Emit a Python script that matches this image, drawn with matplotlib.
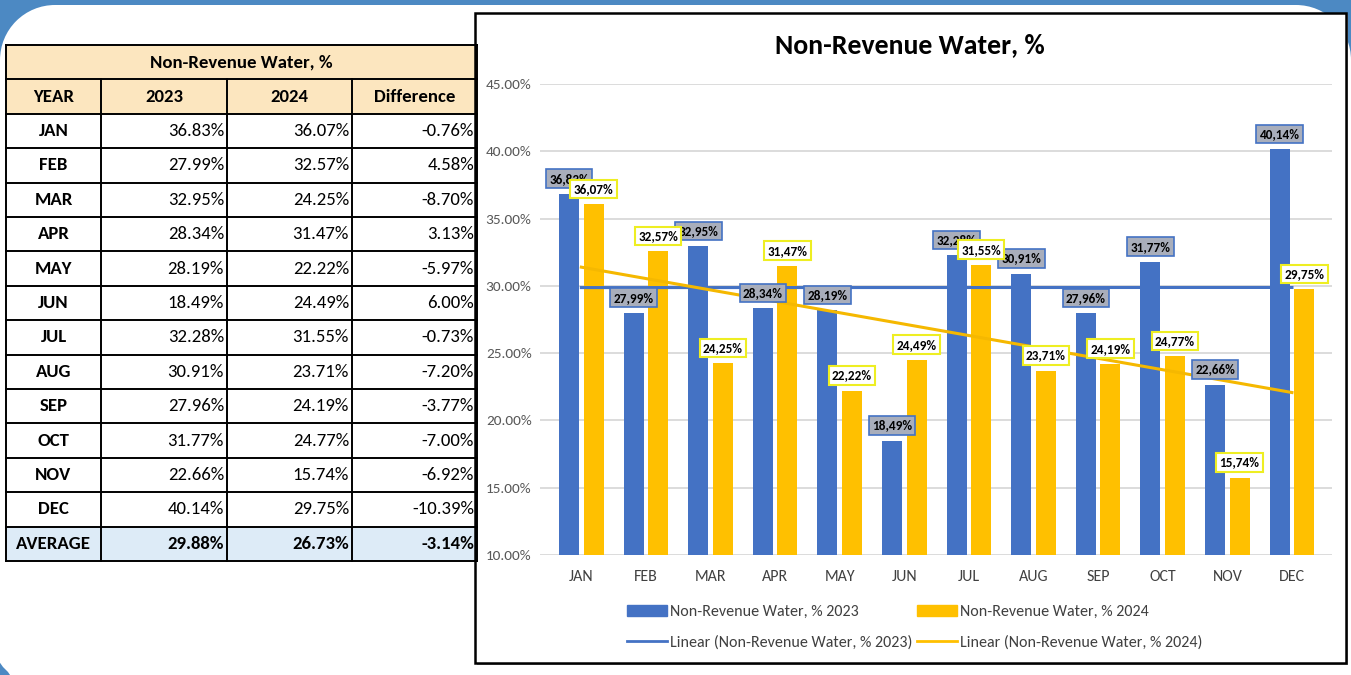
import matplotlib
matplotlib.use("Agg")
import matplotlib.pyplot as plt
import numpy as np
from matplotlib.patches import Rectangle, Circle, Patch, Polygon
from matplotlib.lines import Line2D

# data
months = ["JAN", "FEB", "MAR", "APR", "MAY", "JUN",
          "JUL", "AUG", "SEP", "OCT", "NOV", "DEC"]
nrw_2023 = [36.83, 27.99, 32.95, 28.34, 28.19, 18.49,
            32.28, 30.91, 27.96, 31.77, 22.66, 40.14]
nrw_2024 = [36.07, 32.57, 24.25, 31.47, 22.22, 24.49,
            31.55, 23.71, 24.19, 24.77, 15.74, 29.75]
difference = [-0.76, 4.58, -8.70, 3.13, -5.97, 6.00,
              -0.73, -7.20, -3.77, -7.00, -6.92, -10.39]
average = [29.88, 26.73, -3.14]
header = ["YEAR", "2023", "2024", "Difference"]
y_ticks = [10, 15, 20, 25, 30, 35, 40, 45]

TXT = ["Carlito", "Lato", "DejaVu Sans"]
BLUE = "#4472C4"
YELLOW = "#FFC000"
BG_BLUE = "#4C89C3"

W, H = 1351, 675
fig = plt.figure(figsize=(W / 100, H / 100), dpi=100)
fig.patch.set_facecolor("white")

# background layer in pixel coordinates
bg = fig.add_axes([0, 0, 1, 1])
bg.set_xlim(0, W)
bg.set_ylim(H, 0)
bg.axis("off")
# blue frame showing at the top strip and rounded corners
r = 55
bg.add_patch(Rectangle((-5, -5), W + 10, 10, fc=BG_BLUE, ec="none"))
bg.add_patch(Rectangle((-5, -5), r + 5, r + 10, fc=BG_BLUE, ec="none"))
bg.add_patch(Rectangle((W - r, -5), r + 5, r + 10, fc=BG_BLUE, ec="none"))
bg.add_patch(Circle((r, 5 + r), r, fc="white", ec="none"))
bg.add_patch(Circle((W - r, 5 + r), r, fc="white", ec="none"))
bg.add_patch(Rectangle((r, 5), W - 2 * r, r, fc="white", ec="none"))
bg.add_patch(Rectangle((-5, 5 + r), W + 10, H, fc="white", ec="none"))
bg.add_patch(Polygon([(-2, 660), (3, 667), (8, 672), (12, 678), (-2, 678)],
                     fc=BG_BLUE, ec="none"))

# ---- table ----
cx = [6, 101, 227, 352, 477]
top = 45
row_h = 34.4
rows_y = [top + i * row_h for i in range(16)]  # title, header, 12 months, average
bg.add_patch(Rectangle((cx[0], rows_y[0]), cx[-1] - cx[0], 2 * row_h,
                       fc="#FCE6BF", ec="none"))
bg.add_patch(Rectangle((cx[0], rows_y[14]), cx[-1] - cx[0], row_h,
                       fc="#DDEBF7", ec="none"))
for yy in rows_y[:16]:
    bg.plot([cx[0], cx[-1]], [yy, yy], color="black", lw=1.4)
for xx in cx:
    y0 = rows_y[0] if xx in (cx[0], cx[-1]) else rows_y[1]
    bg.plot([xx, xx], [y0, rows_y[15]], color="black", lw=1.4)

FS = 13.5
bg.text((cx[0] + cx[-1]) / 2, rows_y[0] + row_h / 2, "Non-Revenue Water, %",
        ha="center", va="center", fontsize=FS, fontweight="bold", family=TXT)
for j, h in enumerate(header):
    bg.text((cx[j] + cx[j + 1]) / 2, rows_y[1] + row_h / 2, h,
            ha="center", va="center", fontsize=FS, fontweight="bold", family=TXT)
for i, m in enumerate(months):
    yc = rows_y[2 + i] + row_h / 2
    bg.text((cx[0] + cx[1]) / 2, yc, m, ha="center", va="center",
            fontsize=FS, fontweight="bold", family=TXT)
    for j, v in enumerate([nrw_2023[i], nrw_2024[i], difference[i]]):
        bg.text(cx[j + 2] - 3, yc, f"{v:.2f}%", ha="right", va="center",
                fontsize=FS, family=TXT)
yc = rows_y[14] + row_h / 2
bg.text((cx[0] + cx[1]) / 2, yc, "AVERAGE", ha="center", va="center",
        fontsize=FS, fontweight="bold", family=TXT)
for j, v in enumerate(average):
    bg.text(cx[j + 2] - 3, yc, f"{v:.2f}%", ha="right", va="center",
            fontsize=FS, fontweight="bold", family=TXT)

# ---- chart frame ----
bg.add_patch(Rectangle((477, 15), 871, 650, fc="#9a9a9a", ec="none"))
bg.add_patch(Rectangle((475, 13), 871, 650, fc="white", ec="black", lw=1.8))
bg.text(910, 45, "Non-Revenue Water, %", ha="center", va="center",
        fontsize=20, fontweight="bold", family=TXT)

# ---- chart ----
L, R, T, B = 540, 1332, 84, 555
ax = fig.add_axes([L / W, 1 - B / H, (R - L) / W, (B - T) / H])
ax.patch.set_alpha(0)
x = np.arange(len(months))
off, bw = 0.19, 0.31
ax.bar(x - off, nrw_2023, bw, color=BLUE, zorder=2)
ax.bar(x + off, nrw_2024, bw, color=YELLOW, zorder=2)

for vals, col in [(nrw_2023, BLUE), (nrw_2024, "#F5B800")]:
    k, b = np.polyfit(x, vals, 1)
    ax.plot([x[0], x[-1]], [k * x[0] + b, k * x[-1] + b], color=col,
            lw=2.2, zorder=3)

for i in range(len(months)):
    ax.annotate(f"{nrw_2023[i]:.2f}%".replace(".", ","), (x[i] - off, nrw_2023[i]),
                xytext=(0, 11), textcoords="offset points", ha="center", va="center",
                fontsize=9.5, fontweight="bold", family=TXT, zorder=5,
                bbox=dict(boxstyle="square,pad=0.25", fc="#A9AEBB", ec=BLUE, lw=1.2))
    ax.annotate(f"{nrw_2024[i]:.2f}%".replace(".", ","), (x[i] + off, nrw_2024[i]),
                xytext=(0, 11), textcoords="offset points", ha="center", va="center",
                fontsize=9.5, fontweight="bold", family=TXT, zorder=6,
                bbox=dict(boxstyle="square,pad=0.25", fc="white", ec="#EEEE22", lw=1.5))

ax.set_ylim(10, 45)
ax.set_xlim(-0.64, 11.62)
ax.set_yticks(y_ticks)
ax.set_yticklabels([f"{t:.2f}%" for t in y_ticks])
ax.set_xticks(x)
ax.set_xticklabels(months)
ax.tick_params(axis="y", length=0, pad=6, labelsize=11, labelcolor="#595959")
ax.tick_params(axis="x", length=0, pad=11, labelsize=11.5, labelcolor="#404040")
for lab in ax.get_xticklabels() + ax.get_yticklabels():
    lab.set_family(TXT)
for s in ax.spines.values():
    s.set_visible(False)
ax.grid(axis="y", color="#D9D9D9", lw=1.3, zorder=0)
ax.set_axisbelow(True)

handles = [Patch(color=BLUE), Line2D([], [], color=BLUE, lw=2),
           Patch(color=YELLOW), Line2D([], [], color=YELLOW, lw=2)]
labels = ["Non-Revenue Water, % 2023", "Linear (Non-Revenue Water, % 2023)",
          "Non-Revenue Water, % 2024", "Linear (Non-Revenue Water, % 2024)"]
fig.legend(handles, labels, ncol=2, loc="upper left",
           bbox_to_anchor=(627 / W, 1 - 605 / H), frameon=False,
           borderpad=0, borderaxespad=0, handlelength=2.5, handletextpad=0.2,
           columnspacing=0.3, labelspacing=1.0,
           prop={"family": TXT, "size": 11.5})
for t in fig.legends[0].get_texts():
    t.set_color("#404040")

fig.savefig("out.png", dpi=100, facecolor=fig.get_facecolor())
